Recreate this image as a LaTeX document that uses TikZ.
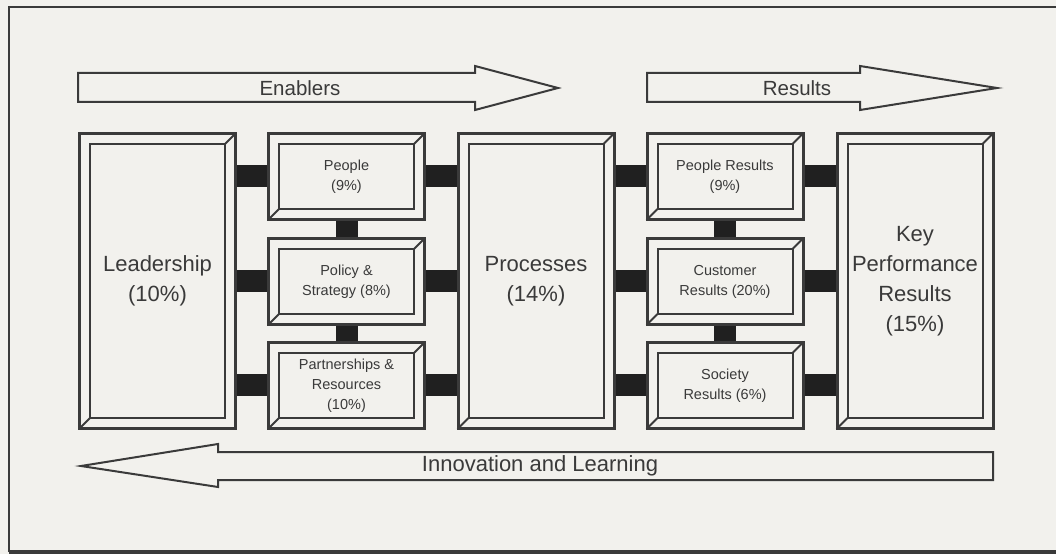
\documentclass[tikz,border=0pt]{standalone}
\usepackage{fontspec}
\setmainfont{Liberation Sans}
\definecolor{paper}{RGB}{242,241,237}
\definecolor{ink}{RGB}{58,58,58}
\definecolor{barink}{RGB}{32,32,32}
\tikzset{
  frame/.style={draw=ink, line width=2pt},
  bigbox/.style={frame, fill=paper, minimum width=155pt, minimum height=294pt,
    inner sep=0pt, align=center, text=ink, font=\fontsize{22}{30}\selectfont},
  smallbox/.style={frame, fill=paper, minimum width=155pt, minimum height=85pt,
    inner sep=0pt, align=center, text=ink, font=\fontsize{14.5}{20}\selectfont},
  bar/.style={draw=barink, line width=22pt, line cap=butt},
  flowarrow/.style={draw=ink, line width=2pt, fill=paper, line join=miter},
  arrowlabel/.style={text=ink, inner sep=0pt}
}
% inner rectangle and the two bevel edges of a framed box
\newcommand\bevelframe[1]{%
  \draw[frame] ([shift={(11pt,-11pt)}]#1.north west) rectangle ([shift={(-11pt,11pt)}]#1.south east);
  \draw[frame] (#1.north east) -- ([shift={(-11pt,-11pt)}]#1.north east);
  \draw[frame] (#1.south west) -- ([shift={(11pt,11pt)}]#1.south west);
}
\begin{document}
\begin{tikzpicture}[x=1pt,y=1pt]
\useasboundingbox (0,0) rectangle (1056,554);
\fill[paper] (0,0) rectangle (1056,554);
% surrounding frame
\draw[draw=ink, line width=2pt] (9,2) -- (9,547) -- (1062,547);
\draw[draw=ink, line width=3.5pt] (9,2) -- (1062,2);

% boxes
\node[bigbox] (lead) at (157.5,273) {Leadership\\(10\%)};
\node[bigbox] (proc) at (536,273) {Processes\\(14\%)};
\node[bigbox] (kpr) at (915,273) {Key\\Performance\\Results\\(15\%)};

\node[smallbox] (pe) at (346.5,377.5) {People\\(9\%)};
\node[smallbox] (po) at (346.5,272.5) {Policy \&\\Strategy (8\%)};
\node[smallbox] (pa) at (346.5,168.5) {Partnerships \&\\Resources\\(10\%)};

\node[smallbox] (pr) at (725,377.5) {People Results\\(9\%)};
\node[smallbox] (cr) at (725,272.5) {Customer\\Results (20\%)};
\node[smallbox] (sr) at (725,168.5) {Society\\Results (6\%)};

% connectors
\draw[bar] (lead.east |- pe) -- (pe.west);
\draw[bar] (lead.east |- po) -- (po.west);
\draw[bar] (lead.east |- pa) -- (pa.west);
\draw[bar] (pe.east) -- (proc.west |- pe);
\draw[bar] (po.east) -- (proc.west |- po);
\draw[bar] (pa.east) -- (proc.west |- pa);
\draw[bar] (proc.east |- pr) -- (pr.west);
\draw[bar] (proc.east |- cr) -- (cr.west);
\draw[bar] (proc.east |- sr) -- (sr.west);
\draw[bar] (pr.east) -- (kpr.west |- pr);
\draw[bar] (cr.east) -- (kpr.west |- cr);
\draw[bar] (sr.east) -- (kpr.west |- sr);
\draw[bar] (pe.south) -- (po.north);
\draw[bar] (po.south) -- (pa.north);
\draw[bar] (pr.south) -- (cr.north);
\draw[bar] (cr.south) -- (sr.north);

% redraw box outlines over the bars, then the bevels
\foreach \b in {lead,proc,kpr,pe,po,pa,pr,cr,sr}{
  \draw[frame] (\b.north west) rectangle (\b.south east);
  \bevelframe{\b}
}

% flow arrows
\draw[flowarrow] (78,481) -- (475,481) -- (475,488) -- (558,466) -- (475,444) -- (475,452) -- (78,452) -- cycle;
\node[arrowlabel, font=\fontsize{20.5}{24}\selectfont] (en) at (300,466) {Enablers};

\draw[flowarrow] (647,481) -- (860,481) -- (860,488) -- (997,466) -- (860,444) -- (860,452) -- (647,452) -- cycle;
\node[arrowlabel, font=\fontsize{20.5}{24}\selectfont] (re) at (797,466) {Results};

\draw[flowarrow] (993,102) -- (218,102) -- (218,110) -- (81,88) -- (218,67) -- (218,74) -- (993,74) -- cycle;
\node[arrowlabel, font=\fontsize{22}{26}\selectfont] (il) at (540,88) {Innovation and Learning};
\end{tikzpicture}
\end{document}
